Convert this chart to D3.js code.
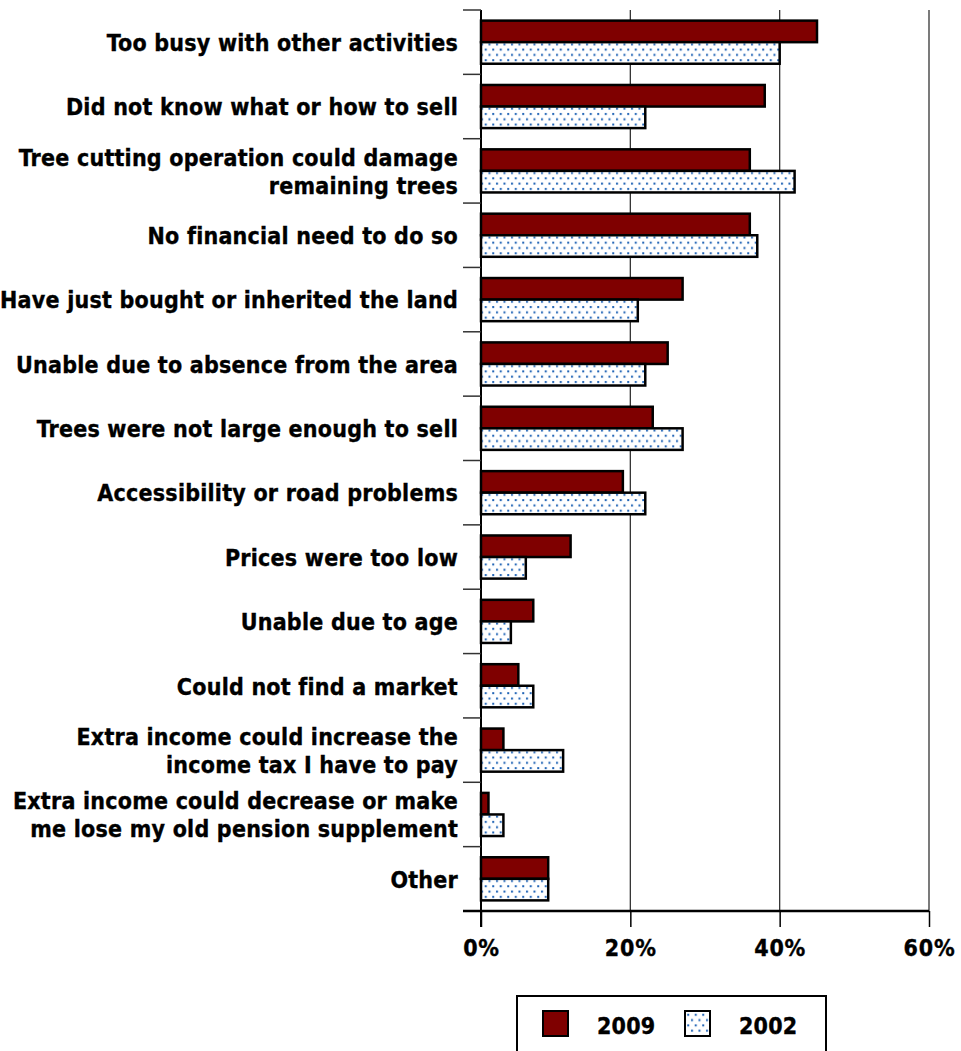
<!DOCTYPE html>
<html>
<head>
<meta charset="utf-8">
<script src="https://cdn.jsdelivr.net/npm/d3@7"></script>
<style>
  html, body { margin: 0; padding: 0; background: #fff; }
  svg { display: block; }
  text { font-family: "DejaVu Sans Condensed", "DejaVu Sans", Verdana, sans-serif; font-weight: bold; fill: #000; stroke: #000; stroke-width: 0.35px; letter-spacing: 0.22px; }
</style>
</head>
<body>
<svg id="chart" width="961" height="1051"></svg>
<script>
// Reasons for not harvesting timber, share of respondents
const categories = [
  ["Too busy with other activities"],
  ["Did not know what or how to sell"],
  ["Tree cutting operation could damage", "remaining trees"],
  ["No financial need to do so"],
  ["Have just bought or inherited the land"],
  ["Unable due to absence from the area"],
  ["Trees were not large enough to sell"],
  ["Accessibility or road problems"],
  ["Prices were too low"],
  ["Unable due to age"],
  ["Could not find a market"],
  ["Extra income could increase the", "income tax I have to pay"],
  ["Extra income could decrease or make", "me lose my old pension supplement"],
  ["Other"]
];
const values2009 = [45, 38, 36, 36, 27, 25, 23, 19, 12, 7, 5, 3, 1, 9];
const values2002 = [40, 22, 42, 37, 21, 22, 27, 22, 6, 4, 7, 11, 3, 9];
const seriesNames = ["2009", "2002"];
const xTicks = [0, 20, 40, 60];

const FONT = "'DejaVu Sans Condensed', 'DejaVu Sans', Verdana, sans-serif";
const svg = d3.select("#chart");
const plotLeft = 481, plotRight = 929, plotTop = 10, plotBottom = 911;

// dotted fill for the 2002 series
const defs = svg.append("defs");
const pat = defs.append("pattern")
  .attr("id", "dots").attr("patternUnits", "userSpaceOnUse")
  .attr("width", 7.5).attr("height", 10.6);
pat.append("rect").attr("width", 7.5).attr("height", 10.6).attr("fill", "#fff");
pat.append("rect").attr("x", 1).attr("y", 1.5).attr("width", 2).attr("height", 2).attr("fill", "#1f63b5");
pat.append("rect").attr("x", 4.75).attr("y", 6.8).attr("width", 2).attr("height", 2).attr("fill", "#1f63b5");

const x = d3.scaleLinear().domain([0, 60]).range([plotLeft, plotRight]);
const y = d3.scaleBand().domain(d3.range(categories.length)).range([plotTop, plotBottom]).paddingInner(0.33).paddingOuter(0.165);
const yCat = d3.scaleBand().domain(d3.range(categories.length)).range([plotTop, plotBottom]);
const ySub = d3.scaleBand().domain(seriesNames).range([0, y.bandwidth()]);

// vertical gridlines
svg.append("g").selectAll("line")
  .data(xTicks.filter(t => t > 0))
  .join("line")
  .attr("x1", d => x(d)).attr("x2", d => x(d))
  .attr("y1", plotTop).attr("y2", plotBottom)
  .attr("stroke", "#333").attr("stroke-width", 1.3);

// bars
const fills = { "2009": "#7f0000", "2002": "url(#dots)" };
const groups = svg.append("g").selectAll("g")
  .data(categories.map((c, i) => ({ i, v: [values2009[i], values2002[i]] })))
  .join("g")
  .attr("transform", d => `translate(0,${y(d.i)})`);
groups.selectAll("rect")
  .data(d => seriesNames.map((s, k) => ({ s, v: d.v[k] })))
  .join("rect")
  .attr("x", x(0))
  .attr("y", d => ySub(d.s))
  .attr("width", d => x(d.v) - x(0))
  .attr("height", ySub.bandwidth())
  .attr("fill", d => fills[d.s])
  .attr("stroke", "#000")
  .attr("stroke-width", 2.5);

// left axis line and category tick marks
const yAxisG = svg.append("g");
yAxisG.append("line").attr("x1", plotLeft).attr("x2", plotLeft).attr("y1", plotTop).attr("y2", plotBottom + 16)
  .attr("stroke", "#000").attr("stroke-width", 2);
yAxisG.selectAll("line.tick")
  .data(d3.range(categories.length + 1))
  .join("line").attr("class", "tick")
  .attr("x1", plotLeft - 18).attr("x2", plotLeft)
  .attr("y1", d => plotTop + d * yCat.step()).attr("y2", d => plotTop + d * yCat.step())
  .attr("stroke", "#333").attr("stroke-width", 1.5);

// bottom axis
const xAxisG = svg.append("g").attr("transform", `translate(0,${plotBottom})`)
  .call(d3.axisBottom(x).tickValues(xTicks).tickFormat(d => d + "%").tickSize(16).tickPadding(13));
xAxisG.select(".domain").remove();
xAxisG.append("line").attr("x1", plotLeft - 18).attr("x2", plotRight).attr("y1", 0).attr("y2", 0)
  .attr("stroke", "#000").attr("stroke-width", 2.5);
xAxisG.selectAll(".tick line").attr("stroke", "#000").attr("stroke-width", 1.5);
xAxisG.selectAll(".tick text")
  .attr("font-family", FONT)
  .attr("font-weight", "bold").attr("font-size", 23).attr("fill", "#000")
  .style("letter-spacing", "0.8px");

// category labels
const labels = svg.append("g").selectAll("text")
  .data(categories)
  .join("text")
  .attr("text-anchor", "end")
  .attr("font-size", 23)
  .attr("transform", (d, i) => `translate(458,${yCat(i) + yCat.bandwidth() / 2})`);
labels.selectAll("tspan")
  .data(d => d.map((line, k) => ({ line, k, n: d.length })))
  .join("tspan")
  .attr("x", 0)
  .attr("y", d => (d.k - (d.n - 1) / 2) * 28)
  .attr("dy", "0.38em")
  .text(d => d.line);

// legend
const lg = svg.append("g");
lg.append("rect").attr("x", 517).attr("y", 996).attr("width", 309).attr("height", 56)
  .attr("fill", "#fff").attr("stroke", "#000").attr("stroke-width", 2);
const legendX = [543, 685];
seriesNames.forEach((s, k) => {
  lg.append("rect").attr("x", legendX[k]).attr("y", 1011).attr("width", 25).attr("height", 25)
    .attr("fill", fills[s]).attr("stroke", "#000").attr("stroke-width", 2);
  lg.append("text").attr("x", legendX[k] + 54).attr("y", 1034).attr("font-size", 23).text(s);
});
</script>
</body>
</html>
